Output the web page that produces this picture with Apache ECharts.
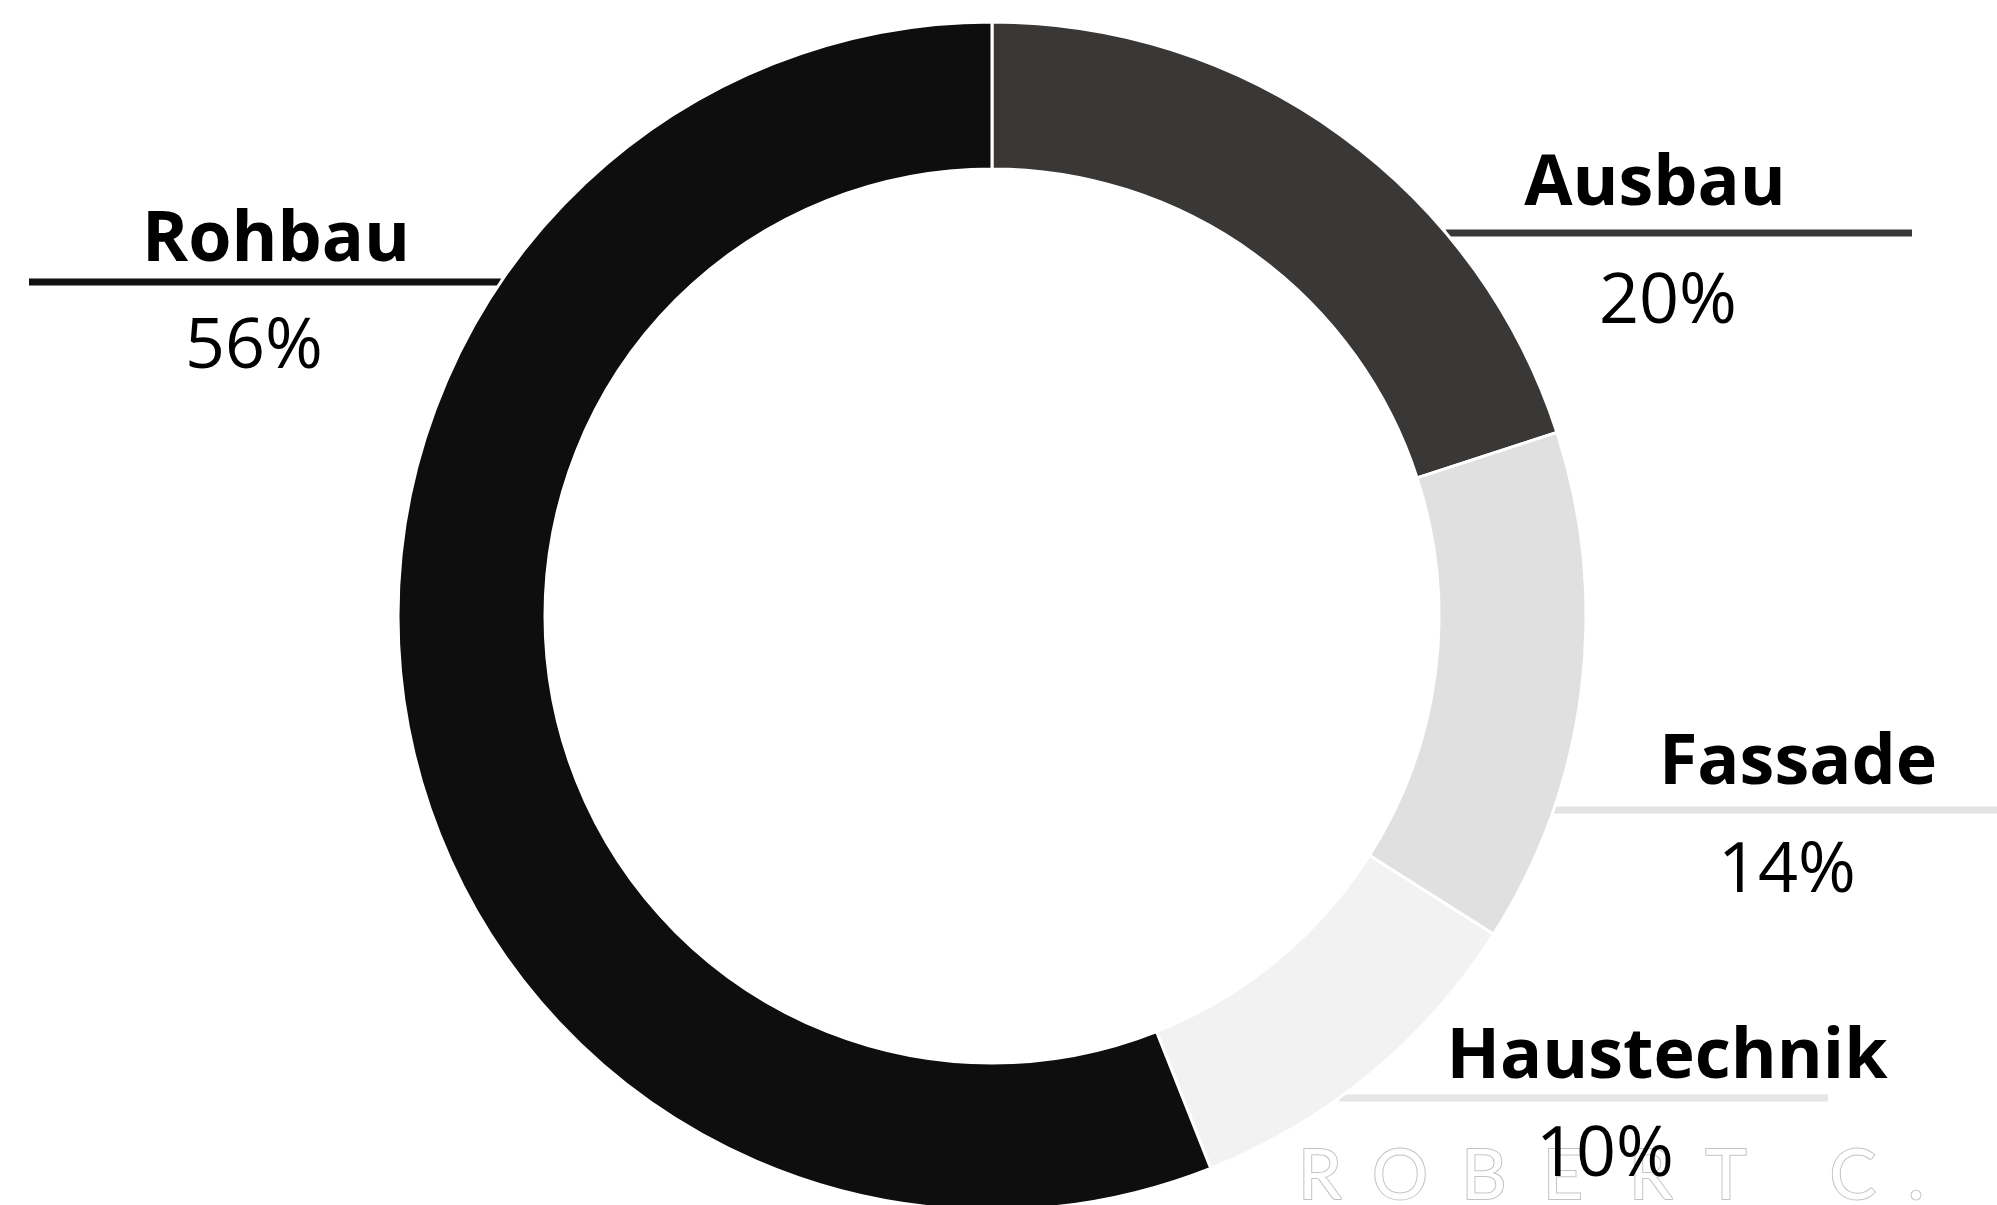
<!DOCTYPE html>
<html>
<head>
<meta charset="utf-8">
<title>Kostenverteilung</title>
<script src="https://cdn.jsdelivr.net/npm/echarts@6/dist/echarts.min.js"></script>
<style>
  html, body { margin: 0; padding: 0; background: #ffffff; }
  #chart { width: 1997px; height: 1205px; }
</style>
</head>
<body>
<div id="chart"></div>
<script>
// Gewerke in Zeichenreihenfolge (im Uhrzeigersinn ab 12 Uhr)
const categories = ['Ausbau', 'Fassade', 'Haustechnik', 'Rohbau'];
// Anteile in Prozent
const shares = [20, 14, 10, 56];
const shareLabels = ['20%', '14%', '10%', '56%'];
const watermarkText = 'ROBERT C.';

// Darstellung
const sliceColors = ['#3a3836', '#e0e0e0', '#f2f2f2', '#0e0e0e'];
const guideColors = ['#3a3836', '#e3e3e3', '#e6e6e6', '#111111'];

const CX = 992, CY = 616, R_IN = 447, R_OUT = 594;
const FS = 70;          // Schriftgröße der Beschriftungen
const MID_TO_BASE = 22; // Abstand Zeilenmitte -> Grundlinie

// Lage der Beschriftungen: Linienhöhe, Textmitten, Grundlinien, Linienende
const spots = {
  Rohbau:      { side: 'left',  lineY: 282,  nameX: 276,  nameBase: 263,  pctX: 254,  pctBase: 370,  end: 29 },
  Ausbau:      { side: 'right', lineY: 233,  nameX: 1655, nameBase: 207,  pctX: 1668, pctBase: 325,  end: 1912 },
  Fassade:     { side: 'right', lineY: 810,  nameX: 1798, nameBase: 786,  pctX: 1787, pctBase: 894,  end: 1997 },
  Haustechnik: { side: 'right', lineY: 1098, nameX: 1667, nameBase: 1080, pctX: 1605, pctBase: 1178, end: 1828 }
};

const fontFamily = '"Open Sans", "Noto Sans", "DejaVu Sans", sans-serif';

function richFor(name) {
  const s = spots[name];
  const lh = s.pctBase - s.nameBase;
  const dx = s.pctX - s.nameX;
  // Verschiebung der Prozentzeile gegenüber der Namenszeile
  const pad = dx < 0 ? [0, -2 * dx, 0, 0] : [0, 0, 0, 2 * dx];
  return {
    name: { fontFamily, fontSize: FS, fontWeight: 'bold', color: '#000', lineHeight: lh, align: 'center' },
    pct:  { fontFamily, fontSize: FS, fontWeight: 400, color: '#000', lineHeight: lh, align: 'center', padding: pad }
  };
}

const seriesData = categories.map((name, i) => ({
  name,
  value: shares[i],
  itemStyle: { color: sliceColors[i] },
  labelLine: { lineStyle: { color: guideColors[i] } },
  label: {
    formatter: '{name|' + name + '}\n{pct|' + shareLabels[i] + '}',
    rich: richFor(name)
  }
}));

const chart = echarts.init(document.getElementById('chart'), null, { renderer: 'canvas' });

// Schriftzug unten rechts, Buchstabe für Buchstabe gesperrt gesetzt
const letterCenters = [1320, 1400, 1484, 1563, 1651, 1726, 0, 1853, 1916];
const watermark = [];
watermarkText.split('').forEach((ch, i) => {
  if (ch === ' ') return;
  watermark.push({
    type: 'text',
    silent: true,
    z: 0,
    style: {
      text: ch,
      x: letterCenters[i],
      y: 1176,
      align: 'center',
      verticalAlign: 'middle',
      font: '400 70px Lato, "DejaVu Sans", sans-serif',
      fill: '#ffffff',
      stroke: '#c2c2c2',
      lineWidth: 2
    }
  });
});

chart.setOption({
  animation: false,
  backgroundColor: '#ffffff',
  graphic: watermark,
  series: [{
    type: 'pie',
    z: 2,
    center: [CX, CY],
    radius: [R_IN, R_OUT],
    startAngle: 90,
    clockwise: true,
    avoidLabelOverlap: false,
    silent: true,
    itemStyle: { borderColor: '#ffffff', borderWidth: 3 },
    label: { show: true, position: 'outside' },
    labelLine: { show: true, length: 10, length2: 10, smooth: false, lineStyle: { width: 7, cap: 'butt' } },
    labelLayout: function (params) {
      const name = categories[params.dataIndex];
      const s = spots[name];
      const lh = s.pctBase - s.nameBase;
      const top = s.nameBase - lh / 2 - MID_TO_BASE;
      const dy = s.lineY - CY;
      const half = Math.sqrt(Math.max(0, R_OUT * R_OUT - dy * dy));
      const edgeX = s.side === 'left' ? CX - half : CX + half;
      return {
        x: s.nameX,
        y: top,
        align: 'center',
        verticalAlign: 'top',
        labelLinePoints: [[edgeX, s.lineY], [edgeX, s.lineY], [s.end, s.lineY]]
      };
    },
    data: seriesData
  }]
});
</script>
</body>
</html>
